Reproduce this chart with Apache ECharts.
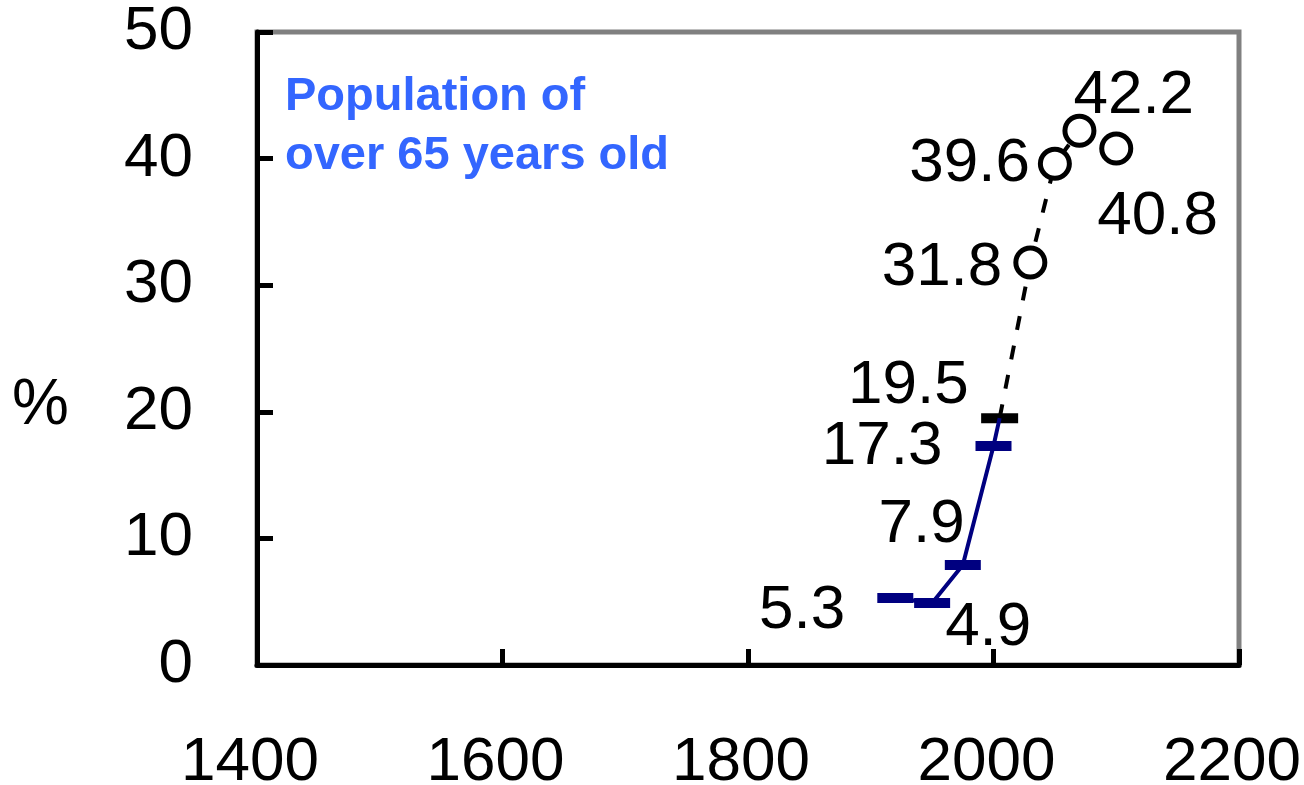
<!DOCTYPE html>
<html>
<head>
<meta charset="utf-8">
<script src="https://cdn.jsdelivr.net/npm/echarts@6/dist/echarts.min.js"></script>
<style>
  html, body { margin: 0; padding: 0; background: #fff; }
  #chart { width: 1304px; height: 785px; }
</style>
</head>
<body>
<div id="chart"></div>
<script>
  // measured share of population aged 65+ (%)
  const yearsMeasured = [1920, 1950, 1975, 2000, 2005];
  const shareMeasured = [5.3, 4.9, 7.9, 17.3, 19.5];
  // projection (dotted)
  const yearsProjected = [2005, 2030, 2050, 2070, 2100];
  const shareProjected = [19.5, 31.8, 39.6, 42.2, 40.8];

  const xMin = 1400, xMax = 2200, xStep = 200;
  const yMin = 0, yMax = 50, yStep = 10;

  const title = 'Population of\nover 65 years old';

  // label placement: [align, dx, dy] relative to the marker centre
  const measuredLabelPos = [['right', -50, 13], ['left', 13, 25], ['right', 2, -40], ['right', -51, 1], null];
  const projectedLabelPos = [['right', -31, -32], ['right', -28, 5], ['right', -25, 0], ['left', -6, -35], ['left', -19, 68]];

  const numFont = {
    fontFamily: '"Liberation Sans", Arial, sans-serif',
    fontSize: 62,
    color: '#000'
  };

  function makeLabel(pos) {
    if (!pos) return { show: false };
    return Object.assign({
      show: true,
      position: 'inside',
      align: pos[0],
      verticalAlign: 'middle',
      offset: [pos[1], pos[2]],
      formatter: p => p.value[1]
    }, numFont);
  }

  const measuredData = yearsMeasured.map((y, i) => {
    const item = { value: [y, shareMeasured[i]], label: makeLabel(measuredLabelPos[i]) };
    if (i === yearsMeasured.length - 1) item.symbol = 'none';
    return item;
  });

  const projectedData = yearsProjected.map((y, i) => {
    const item = { value: [y, shareProjected[i]], label: makeLabel(projectedLabelPos[i]) };
    if (i === 0) {
      item.symbol = 'rect';
      item.symbolSize = [37, 10];
      item.itemStyle = { color: '#000', borderWidth: 0 };
    }
    return item;
  });

  let chart = echarts.init(document.getElementById('chart'));
  let option = {
    animation: false,
    title: {
      text: title,
      left: 285,
      top: 68,
      padding: 0,
      textStyle: {
        fontFamily: '"Liberation Sans", Arial, sans-serif',
        fontSize: 47,
        fontWeight: 'bold',
        color: '#3366ff',
        lineHeight: 59
      }
    },
    graphic: [{
      type: 'text',
      left: 12,
      top: 374,
      style: {
        text: '%',
        fontFamily: '"Liberation Sans", Arial, sans-serif',
        fontSize: 64,
        fill: '#000'
      }
    }],
    grid: {
      left: 257,
      right: 65,
      top: 32,
      bottom: 120,
      outerBoundsMode: 'none',
      containLabel: false,
      show: true,
      borderColor: '#808080',
      borderWidth: 5,
      backgroundColor: '#fff'
    },
    xAxis: {
      type: 'value',
      min: xMin,
      max: xMax,
      interval: xStep,
      splitLine: { show: false },
      axisLine: { lineStyle: { color: '#000', width: 5 } },
      axisTick: { inside: true, length: 16, lineStyle: { color: '#000', width: 5 } },
      axisLabel: Object.assign({ margin: 67, padding: [0, 14, 0, 0], formatter: v => String(v) }, numFont)
    },
    yAxis: {
      type: 'value',
      min: yMin,
      max: yMax,
      interval: yStep,
      splitLine: { show: false },
      axisLine: { show: true, lineStyle: { color: '#000', width: 5 } },
      axisTick: { show: true, inside: true, length: 16, lineStyle: { color: '#000', width: 5 } },
      axisLabel: Object.assign({ margin: 64 }, numFont)
    },
    series: [{
      type: 'line',
      data: measuredData,
      symbol: 'rect',
      symbolSize: [36, 10],
      lineStyle: { color: '#000080', width: 4 },
      itemStyle: { color: '#000080' },
      z: 3
    }, {
      type: 'line',
      data: projectedData,
      symbol: 'circle',
      symbolSize: 29,
      lineStyle: { color: '#000', width: 4, type: [14, 16] },
      itemStyle: { color: '#fff', borderColor: '#000', borderWidth: 5 },
      z: 2
    }]
  };
  chart.setOption(option);
  window.onresize = function () {
    chart.resize();
  };
</script>
</body>
</html>
